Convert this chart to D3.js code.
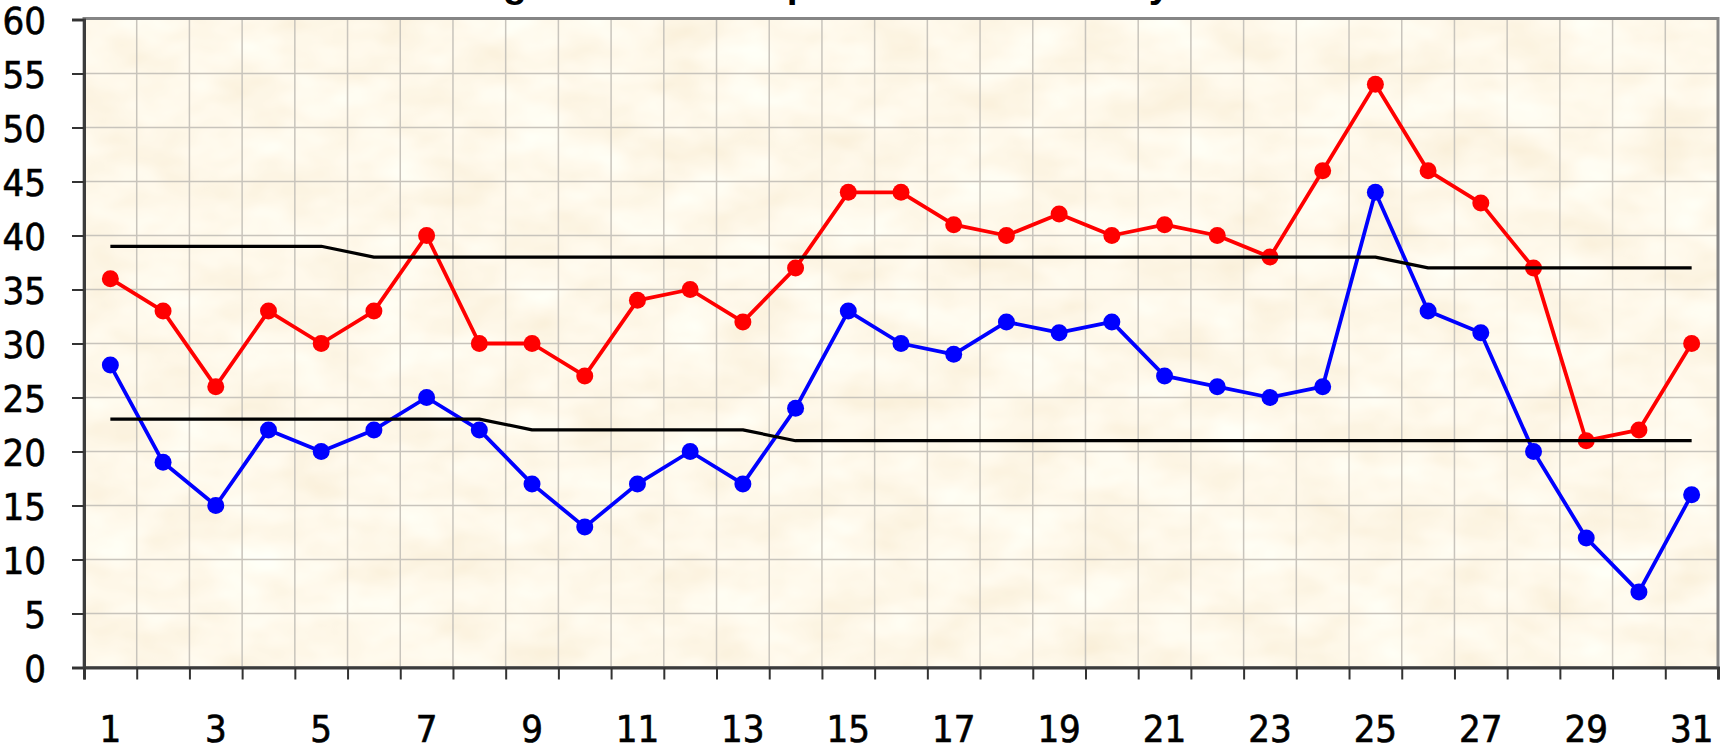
<!DOCTYPE html>
<html>
<head>
<meta charset="utf-8">
<script src="https://cdn.jsdelivr.net/npm/d3@7/dist/d3.min.js"></script>
<style>
  html, body { margin: 0; padding: 0; background: #ffffff; }
  svg { display: block; }
</style>
</head>
<body>
<svg id="chart" width="1722" height="752"></svg>
<script>
const days = [1,2,3,4,5,6,7,8,9,10,11,12,13,14,15,16,17,18,19,20,21,22,23,24,25,26,27,28,29,30,31];
const maxTemps = [36,33,26,33,30,33,40,30,30,27,34,35,32,37,44,44,41,40,42,40,41,40,38,46,54,46,43,37,21,22,30];
const minTemps = [28,19,15,22,20,22,25,22,17,13,17,20,17,24,33,30,29,32,31,32,27,26,25,26,44,33,31,20,12,7,16];
const avgMax = [39,39,39,39,39,38,38,38,38,38,38,38,38,38,38,38,38,38,38,38,38,38,38,38,38,37,37,37,37,37,37];
const avgMin = [23,23,23,23,23,23,23,23,22,22,22,22,22,21,21,21,21,21,21,21,21,21,21,21,21,21,21,21,21,21,21];
const yTicks = [0,5,10,15,20,25,30,35,40,45,50,55,60];
const xTickLabels = [1,3,5,7,9,11,13,15,17,19,21,23,25,27,29,31];
const titleText = "High and low temperatures in January";

(function () {
const svg = d3.select("#chart");
const pL = 84, pR = 1718, pT = 19.5, pB = 667.5;
const tickFont = "DejaVu Sans Condensed, DejaVu Sans, Verdana, sans-serif";

const x = d3.scaleBand().domain(days).range([pL, pR]).paddingInner(0).paddingOuter(0);
const y = d3.scaleLinear().domain([0, 60]).range([pB, pT]);
const cx = d => x(d) + x.bandwidth() / 2;

// textured parchment background
const defs = svg.append("defs");
const f = defs.append("filter").attr("id", "paper")
  .attr("filterUnits", "userSpaceOnUse")
  .attr("x", pL).attr("y", pT).attr("width", pR - pL).attr("height", pB - pT);
f.append("feTurbulence").attr("type", "fractalNoise")
  .attr("baseFrequency", "0.014 0.024").attr("numOctaves", 3).attr("seed", 7).attr("result", "n");
f.append("feColorMatrix").attr("in", "n").attr("type", "matrix")
  .attr("values", "0.10 0 0 0 0.945  0.18 0 0 0 0.85  0.30 0 0 0 0.67  0 0 0 0 1");
svg.append("rect").attr("x", pL).attr("y", pT).attr("width", pR - pL).attr("height", pB - pT)
  .attr("fill", "#fcefd4").attr("filter", "url(#paper)");

// gridlines
const grid = svg.append("g").attr("stroke", "#c8c4bc").attr("stroke-width", 1.5);
grid.selectAll("line.h").data(yTicks.slice(1, -1)).join("line").attr("class", "h")
  .attr("x1", pL).attr("x2", pR).attr("y1", d => y(d)).attr("y2", d => y(d));
grid.selectAll("line.v").data(days.slice(1)).join("line").attr("class", "v")
  .attr("x1", d => x(d)).attr("x2", d => x(d)).attr("y1", pT).attr("y2", pB);

// plot border
svg.append("rect").attr("x", pL).attr("y", pT - 1).attr("width", pR - pL).attr("height", pB - pT + 1)
  .attr("fill", "none").attr("stroke", "#858585").attr("stroke-width", 3);

// axes
const yAxis = d3.axisLeft(y).tickValues(yTicks).tickSize(12).tickPadding(26).tickFormat(d3.format("d"));
const gy = svg.append("g").attr("transform", `translate(${pL},0)`).call(yAxis);
gy.select(".domain").attr("stroke", "#3c3c3c").attr("stroke-width", 3);
gy.selectAll(".tick line").attr("stroke", "#333").attr("stroke-width", 2);
gy.selectAll(".tick text").attr("font-family", tickFont)
  .attr("font-size", 38).attr("fill", "#000").attr("stroke", "#000").attr("stroke-width", 0.6)
  .attr("dy", "0.36em");

const xAxisScale = d3.scaleLinear().domain([0, days.length]).range([pL, pR]);
const xAxis = d3.axisBottom(xAxisScale).tickValues(d3.range(0, days.length + 1)).tickSize(12).tickFormat("");
const gx = svg.append("g").attr("transform", `translate(0,${pB})`).call(xAxis);
gx.select(".domain").attr("stroke", "#3c3c3c").attr("stroke-width", 3);
gx.selectAll(".tick line").attr("stroke", "#333").attr("stroke-width", 2);

svg.append("g").selectAll("text").data(xTickLabels).join("text")
  .attr("x", d => cx(d)).attr("y", 742)
  .attr("text-anchor", "middle")
  .attr("font-family", tickFont).attr("font-size", 38).attr("fill", "#000")
  .attr("stroke", "#000").attr("stroke-width", 0.6)
  .text(d => d);

// series
const line = d3.line().x((d, i) => cx(days[i])).y(d => y(d));
function series(vals, color, markers, width) {
  svg.append("path").datum(vals).attr("d", line).attr("fill", "none")
    .attr("stroke", color).attr("stroke-width", width).attr("stroke-linejoin", "round");
  if (markers) {
    svg.append("g").selectAll("circle").data(vals).join("circle")
      .attr("cx", (d, i) => cx(days[i])).attr("cy", d => y(d)).attr("r", 8.5).attr("fill", color);
  }
}
series(maxTemps, "#ff0000", true, 3.8);
series(minTemps, "#0000ff", true, 3.8);
series(avgMax, "#000000", false, 3.2);
series(avgMin, "#000000", false, 3.2);

// title (mostly above the visible area, as in the reference)
svg.append("text").attr("x", 464).attr("y", -3.5)
  .attr("font-family", "Liberation Sans, Arial, sans-serif").attr("font-weight", "bold")
  .attr("font-size", 39).attr("fill", "#000").text(titleText);
})();
</script>
</body>
</html>
